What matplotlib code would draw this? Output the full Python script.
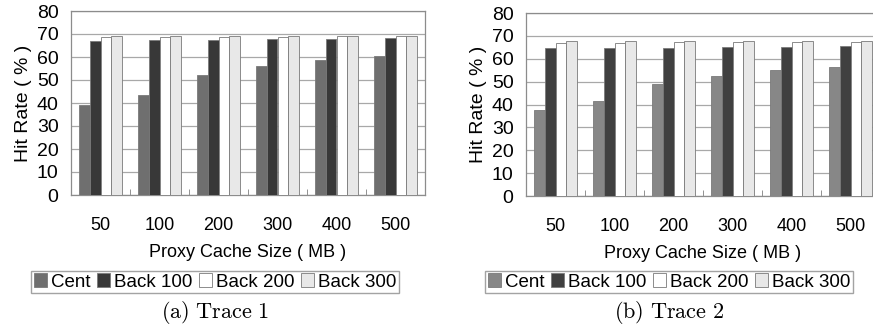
import matplotlib
matplotlib.use('Agg')
import matplotlib.pyplot as plt
import numpy as np

plt.rcParams['font.family'] = ['Liberation Sans', 'DejaVu Sans']
plt.rcParams['mathtext.fontset'] = 'cm'

# 数据：从图上估读
sizes = ['50', '100', '200', '300', '400', '500']
series = ['Cent', 'Back 100', 'Back 200', 'Back 300']

trace1_cent = [39.1, 43.5, 52.2, 56.3, 58.7, 60.4]
trace1_back100 = [67.1, 67.2, 67.5, 67.8, 68.0, 68.2]
trace1_back200 = [68.5, 68.6, 68.7, 68.9, 69.0, 69.0]
trace1_back300 = [69.0, 69.0, 69.0, 69.1, 69.2, 69.2]

trace2_cent = [37.6, 41.7, 49.0, 52.5, 55.2, 56.6]
trace2_back100 = [64.5, 64.6, 64.7, 65.0, 65.3, 65.4]
trace2_back200 = [67.0, 67.0, 67.2, 67.3, 67.4, 67.5]
trace2_back300 = [67.6, 67.6, 67.7, 67.8, 67.9, 67.9]


def draw_panel(ax, data, colors, caption, legend_x):
    x = np.arange(len(sizes))
    w = 0.183
    bars = []
    for i, vals in enumerate(data):
        b = ax.bar(x + (i - 1.5) * w, vals, width=w, color=colors[i],
                   edgecolor='#7a7a7a', linewidth=0.6, zorder=3)
        bars.append(b)
    ax.set_xlim(-0.5, len(sizes) - 0.5)
    ax.set_ylim(0, 80)
    ax.set_yticks(range(0, 90, 10))
    ax.yaxis.grid(True, color='#a8a8a8', linewidth=0.9, zorder=0)
    ax.set_xticks(x)
    ax.set_xticklabels(sizes, fontsize=13)
    ax.set_xticks(x[:-1] + 0.5, minor=True)
    ax.tick_params(axis='x', which='major', length=0, pad=16)
    ax.tick_params(axis='x', which='minor', direction='in', length=4,
                   color='#808080')
    ax.tick_params(axis='y', length=0, pad=9, labelsize=14)
    for s in ax.spines.values():
        s.set_color('#8c8c8c')
        s.set_linewidth(0.9)
    ax.set_ylabel('Hit Rate ( % )', fontsize=14, labelpad=3)
    ax.set_xlabel('Proxy Cache Size ( MB )', fontsize=13, labelpad=7)
    fig = ax.figure
    fig.legend(bars, series, loc='center', bbox_to_anchor=(legend_x, 1 - 282 / 330),
               ncol=4, fontsize=13.5, frameon=True, fancybox=False,
               edgecolor='#8c8c8c', handlelength=0.7, handleheight=0.7,
               handletextpad=0.2, columnspacing=0.35, borderpad=0.15,
               borderaxespad=0)
    fig.text(legend_x, 1 - 313 / 330, caption, ha='center', va='center',
             fontsize=16)


fig = plt.figure(figsize=(8.73, 3.30), dpi=100)
ax1 = fig.add_axes([71 / 873, 1 - 195 / 330, 354 / 873, 184 / 330])
ax2 = fig.add_axes([526 / 873, 1 - 196 / 330, 354 / 873, 183 / 330])

draw_panel(ax1, [trace1_cent, trace1_back100, trace1_back200, trace1_back300],
           ['#6f6f6f', '#383838', '#ffffff', '#e8e8e8'],
           r'$\mathrm{(a)\ Trace\ 1}$', 215 / 873)
draw_panel(ax2, [trace2_cent, trace2_back100, trace2_back200, trace2_back300],
           ['#878787', '#404040', '#ffffff', '#e8e8e8'],
           r'$\mathrm{(b)\ Trace\ 2}$', 669 / 873)

fig.savefig('out.png', dpi=100)
